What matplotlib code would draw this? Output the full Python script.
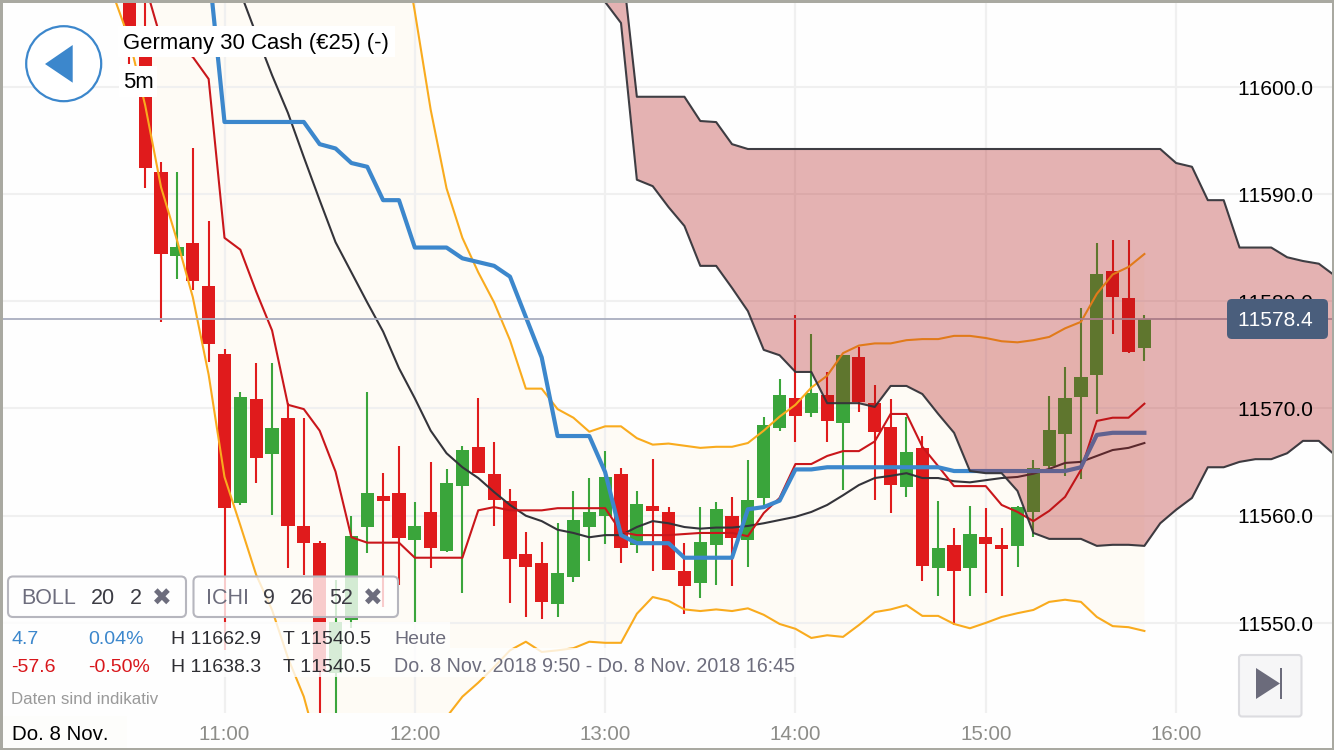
import numpy as np
import matplotlib
matplotlib.use("Agg")
import matplotlib.pyplot as plt
from matplotlib.patches import Rectangle, FancyBboxPatch, Circle, Polygon

plt.rcParams['font.family'] = ['Liberation Sans', 'DejaVu Sans']
plt.rcParams['text.kerning_factor'] = 6

# bars are 5 minutes apart, index 0 = 11:00
opens = [11611.7,11604.3,11592.0,11584.2,11585.4,11581.4,11575.1,11561.3,11570.9,11565.8,11569.2,11559.1,11557.6,11545.5,11550.4,11559.05,
 11561.9,11562.2,11557.8,11560.4,11556.8,11562.9,11566.5,11564.0,11561.5,11556.5,11555.7,11551.9,11554.4,11559.05,11560.1,11564.0,
 11557.4,11561.0,11560.4,11555.0,11553.85,11557.4,11560.1,11557.8,11561.7,11568.2,11571.0,11569.6,11571.3,11568.7,11574.8,11570.6,
 11568.3,11562.8,11566.4,11555.2,11557.4,11555.2,11558.1,11557.4,11557.3,11560.4,11564.7,11567.7,11571.1,11573.2,11582.8,11580.3,11575.7]
highs = [11613.6,11609.8,11592.9,11592.0,11594.2,11587.5,11575.6,11571.6,11574.3,11574.3,11570.6,11569.2,11557.75,11554.1,11560.1,11571.6,
 11564.1,11566.6,11561.4,11565.1,11564.4,11566.6,11571.0,11566.9,11562.6,11558.6,11557.7,11559.4,11562.4,11563.6,11566.1,11564.5,
 11562.4,11565.4,11560.9,11557.6,11560.9,11561.4,11561.8,11565.3,11569.3,11572.8,11578.7,11577.0,11573.4,11575.0,11575.8,11572.2,
 11570.9,11569.3,11567.5,11561.5,11559.0,11561.0,11560.8,11559.0,11561.0,11565.3,11571.2,11573.9,11579.4,11585.4,11585.7,11585.7,11578.7]
lows = [11602.0,11590.5,11578.1,11582.1,11581.1,11574.4,11547.6,11561.1,11563.1,11560.2,11555.2,11554.6,11540.5,11540.5,11549.7,11556.6,
 11551.6,11553.7,11550.2,11555.2,11556.75,11552.9,11564.1,11559.1,11552.0,11550.7,11550.5,11550.7,11553.9,11555.9,11557.5,11555.7,
 11556.6,11555.0,11555.1,11551.0,11552.5,11553.7,11553.6,11555.3,11561.0,11568.0,11566.9,11569.3,11566.9,11562.5,11569.7,11561.6,
 11560.35,11561.8,11554.0,11552.6,11550.0,11552.6,11552.9,11552.6,11555.3,11558.1,11564.5,11563.8,11563.5,11569.5,11577.0,11575.2,11574.5]
closes = [11603.3,11592.4,11584.4,11585.05,11581.9,11576.0,11560.8,11571.1,11565.5,11568.2,11559.1,11557.6,11545.6,11550.2,11558.2,11562.2,
 11561.5,11558.0,11559.1,11557.1,11563.1,11566.2,11564.1,11561.6,11556.1,11555.3,11552.1,11554.8,11559.7,11560.4,11563.7,11557.1,
 11561.2,11560.5,11555.1,11553.6,11557.7,11560.7,11558.0,11561.6,11568.5,11571.3,11569.4,11571.5,11568.9,11575.0,11570.7,11567.9,
 11562.95,11566.0,11555.4,11557.1,11555.0,11558.4,11557.5,11557.0,11560.9,11564.5,11568.1,11571.0,11573.0,11582.5,11580.4,11575.3,11578.4]
first_bar = -6

boll_upper = [11640,11645,11648,11650,11652,11655,11658,11660,11660,11660,11659,11657,11654,11650,11646,11640,11632,11624,
 11615.4,11606.9,11597.8,11590.5,11585.9,11582.7,11579.9,11576.4,11571.9,11571.9,11570.0,11569.2,11567.9,11568.4,11568.4,11567.3,
 11566.7,11566.8,11566.6,11566.4,11566.5,11566.5,11566.85,11568.0,11569.3,11570.4,11572.0,11573.1,11575.2,11575.9,11576.1,11576.1,
 11576.4,11576.5,11576.5,11576.8,11576.8,11576.6,11576.3,11576.2,11576.4,11576.7,11577.5,11578.1,11580.7,11582.5,11583.2,11584.4]
boll_lower = [11608.4,11604.3,11598.2,11590.6,11585.7,11580.4,11573.2,11563.7,11559.2,11554.6,11551.35,11546.9,11543.3,11537.9,11535,11533,
 11532,11532,11534,11536,11538.5,11541.4,11543.3,11544.6,11546.05,11547.6,11548.4,11547.45,11547.6,11547.8,11548.4,11548.3,11548.3,
 11551.0,11552.55,11552.2,11551.4,11551.25,11551.4,11551.25,11551.5,11550.9,11550.05,11549.6,11548.75,11549.0,11548.85,11549.95,
 11551.15,11551.4,11551.8,11550.8,11550.8,11550.05,11549.65,11550.15,11550.7,11551.05,11551.35,11552.1,11552.3,11552.1,11550.7,
 11549.85,11549.75,11549.4]
boll_first = -7

boll_mid = [11608.7,11604.8,11601.0,11597.5,11593.4,11589.4,11585.5,11582.7,11579.9,11577.2,11573.8,11571.0,11568.0,11565.9,11564.6,
 11563.6,11562.3,11561.1,11560.1,11559.6,11558.8,11558.5,11558.1,11558.3,11558.3,11559.05,11559.6,11559.4,11559.05,11558.9,11559.0,
 11559.0,11559.15,11559.4,11559.7,11560.0,11560.45,11561.1,11562.0,11562.95,11563.6,11563.8,11564.05,11563.6,11563.6,11563.3,11563.2,
 11563.4,11563.6,11563.7,11564.0,11564.45,11565.0,11565.1,11565.65,11566.2,11566.4,11566.85]
mid_first = 1

kijun = [11611.1,11596.66,11596.66,11596.66,11596.66,11596.66,11596.66,11594.6,11594.2,11592.85,11592.5,11589.4,11589.4,11585.0,11585.0,
 11585.0,11584.0,11583.65,11583.3,11582.3,11578.55,11574.8,11567.5,11567.5,11567.5,11564.15,11558.3,11557.55,11557.55,11557.55,11556.2,
 11556.2,11556.2,11556.2,11560.7,11560.9,11561.5,11564.4,11564.4,11564.6,11564.6,11564.6,11564.6,11564.6,11564.6,11564.6,11564.6,
 11564.25,11564.25,11564.25,11564.25,11564.25,11564.25,11564.25,11564.25,11564.6,11567.6,11567.8,11567.8,11567.8]
kijun_first = -1

tenkan = [11609.4,11604.3,11603.6,11602.7,11600.65,11585.9,11584.8,11580.9,11577.3,11570.4,11570.0,11568.0,11564.2,11558.1,11557.6,11557.6,
 11557.6,11556.2,11556.2,11556.2,11556.2,11560.6,11560.9,11560.6,11560.6,11560.6,11560.8,11560.8,11560.8,11560.8,11558.6,11558.3,11558.3,
 11558.3,11558.4,11558.5,11558.5,11558.5,11558.2,11560.35,11561.75,11564.9,11564.9,11565.65,11566.1,11566.1,11567.0,11569.55,11569.55,
 11566.5,11564.7,11562.85,11562.85,11562.85,11561.1,11560.45,11559.6,11560.55,11561.85,11564.35,11568.9,11569.2,11569.2,11570.5]
tenkan_first = -5

cloud_top = [11624,11612.3,11599.0,11599.0,11599.0,11599.0,11596.75,11596.65,11594.6]+[11594.15]*27+[11592.85,11592.5,11589.4,11589.4,
 11585.0,11585.0,11585.0,11584.1,11583.75,11583.5,11582.4]
cloud_bottom = [11607.8,11605.85,11591.3,11590.7,11588.75,11587.0,11583.3,11583.3,11581.25,11579.1,11575.5,11575.0,11573.45,11573.45,
 11570.55,11570.55,11570.55,11570.2,11572.15,11572.15,11571.4,11569.55,11567.8,11564.25,11564.05,11564.05,11562.4,11558.5,11557.95,
 11557.95,11557.95,11557.3,11557.4,11557.4,11557.3,11559.4,11560.65,11561.75,11564.6,11564.6,11565.1,11565.35,11565.35,11565.9,
 11567.05,11567.05,11565.75]
cloud_first = 24

last_price = 11578.4
y_ticks = [11550.0, 11560.0, 11570.0, 11580.0, 11590.0, 11600.0]
x_tick_bars = [0, 12, 24, 36, 48, 60]
x_tick_labels = ['11:00', '12:00', '13:00', '14:00', '15:00', '16:00']

RED, GREEN = '#e01b1c', '#3aa53b'
BLUE, THINRED = '#3c87cc', '#c9161b'
DARK, ORANGE = '#34343a', '#f9ab1e'
CREAM, GRID = '#fefbf5', '#f0f0f0'

XLIM = (-224.5/15.86, (1334-224.5)/15.86)
YLIM_MARKS = (11600-(750-86)/10.77, 11600+86/10.77)
YLIM_GRID = (11600-(750-86.7)/10.72, 11600+86.7/10.72)

fig = plt.figure(figsize=(13.34, 7.5), dpi=100, facecolor='#fefefe')

def layer(ylim, face='none'):
    a = fig.add_axes([0, 0, 1, 1], facecolor=face)
    a.set_xlim(*XLIM)
    a.set_ylim(*ylim)
    a.axis('off')
    return a

ax_bg = layer(YLIM_MARKS)
ax_grid = layer(YLIM_GRID)
ax = layer(YLIM_MARKS)

def idx(first, arr):
    return np.arange(len(arr)) + first

xb = idx(boll_first, boll_upper)
ax_bg.fill_between(xb, boll_lower, boll_upper, color=CREAM, lw=0)
for v in y_ticks:
    ax_grid.axhline(v, color=GRID, lw=1.5)
for v in x_tick_bars:
    ax_grid.axvline(v, color=GRID, lw=1.6)

x = idx(first_bar, opens)
cols = [GREEN if c >= o else RED for o, c in zip(opens, closes)]
ax.vlines(x, lows, highs, colors=cols, lw=1.5, zorder=3)
ax.bar(x, np.abs(np.array(closes)-np.array(opens)), bottom=np.minimum(opens, closes),
       width=0.83, color=cols, lw=0, zorder=3)

ax.plot(xb, boll_upper, color=ORANGE, lw=1.5, zorder=4)
ax.plot(xb, boll_lower, color=ORANGE, lw=1.5, zorder=4)
ax.plot(idx(mid_first, boll_mid), boll_mid, color=DARK, lw=1.5, zorder=4)
ax.plot(idx(tenkan_first, tenkan), tenkan, color=THINRED, lw=1.5, zorder=4)
ax.plot(idx(kijun_first, kijun), kijun, color=BLUE, lw=3.0, zorder=4.2)
ax.axhline(last_price, color='#a9aebf', lw=1.3, zorder=4.5)

xc = idx(cloud_first, cloud_top)
ax.fill_between(xc, cloud_bottom, cloud_top, color='#b01414', alpha=0.32, lw=0, zorder=5)
ax.plot(xc, cloud_top, color=DARK, lw=1.5, zorder=5.5, alpha=0.95)
ax.plot(xc, cloud_bottom, color=DARK, lw=1.5, zorder=5.5, alpha=0.95)

# interface layer, measured in screen pixels
ui = fig.add_axes([0, 0, 1, 1], facecolor='none')
ui.set_xlim(0, 1334)
ui.set_ylim(750, 0)
ui.axis('off')

def box(x0, y0, x1, y1, fc, alpha=1.0, ec='none', lw=0, r=0, z=2):
    if r:
        p = FancyBboxPatch((x0, y0), x1-x0, y1-y0, boxstyle=f'round,pad=0,rounding_size={r}',
                           fc=fc, ec=ec, lw=lw, zorder=z)
        if alpha < 1:
            p.set_facecolor(matplotlib.colors.to_rgba(fc, alpha))
    else:
        p = Rectangle((x0, y0), x1-x0, y1-y0, fc=fc, ec=ec, lw=lw, alpha=alpha, zorder=z)
    ui.add_patch(p)

def label(px, py, s, color='black', size=14.75, ha='left', z=6, **kw):
    ui.text(px, py, s, color=color, fontsize=size, ha=ha, va='center', zorder=z, **kw)

# bottom band and time axis
box(0, 713, 1334, 750, '#fefefe', z=1)
box(3, 716, 127, 750, '#fdfdfb', z=1.5)
for b, s in zip(x_tick_bars, x_tick_labels):
    label(224.5+15.86*b, 734.5, s, color='#8d8d89', ha='center')
label(12, 734.5, 'Do. 8 Nov.')

# y labels
for v in y_ticks:
    label(1275, 86.7+(11600-v)*10.72+2.4, f'{v:.1f}', ha='center', size=15.1, z=3)
box(1227, 299, 1328, 339, '#4a5e7c', r=5, z=4)
label(1275.5, 320, f'{last_price:.1f}', color='white', ha='center', size=15.1)

# title labels
box(118, 26, 395, 57, 'white', z=3)
box(119, 66, 157, 97, 'white', z=3)
label(123, 43.5, 'Germany 30 Cash (€25) (-)', size=15.9)
label(123, 83, '5m', size=15.9)

# back button
ui.add_patch(Circle((63.7, 63.7), 37.5, fc='white', ec=BLUE, lw=1.6, zorder=4))
ui.add_patch(Polygon([(45, 64), (72.7, 45), (72.7, 82.7)], fc=BLUE, ec='none', zorder=5))

# indicator chips
box(8, 576.5, 186, 617, 'white', alpha=0.78, ec='#b6b6be', lw=1.5, r=5, z=3)
box(193.5, 576.5, 398, 617, 'white', alpha=0.78, ec='#b6b6be', lw=1.5, r=5, z=3)
GREY = '#6d6d7d'
for px, s, c in [(21, 'BOLL', GREY), (91, '20', '#3c3c44'), (130, '2', '#3c3c44'),
                 (206, 'ICHI', GREY), (263, '9', '#3c3c44'), (290, '26', '#3c3c44'), (329, '52', '#3c3c44')]:
    label(px, 598, s, color=c, size=15.5)
for px in (162, 373):
    ui.text(px, 598.5, '\u2716', color=GREY, fontsize=17, ha='center', va='center',
            family='DejaVu Sans', zorder=6)

# stat rows
box(0, 622, 450, 648, 'white', alpha=0.8, z=2)
box(0, 648, 797, 677, 'white', alpha=0.8, z=2)
for py, a, b, h, t, col in [(639, '4.7', '0.04%', 'H 11662.9', 'T 11540.5', BLUE),
                            (667, '-57.6', '-0.50%', 'H 11638.3', 'T 11540.5', '#d8161b')]:
    label(11, py, a, color=col, size=14)
    label(88, py, b, color=col, size=14)
    label(171, py, h, color='#2e2e33', size=14)
    label(283, py, t, color='#2e2e33', size=14)
label(394, 639, 'Heute', color=GREY, size=14)
label(394, 667, 'Do. 8 Nov. 2018 9:50 - Do. 8 Nov. 2018 16:45', color=GREY, size=14.13)
label(11, 700, 'Daten sind indikativ', color='#9a9a9a', size=12.2)

# jump-to-end button
box(1239, 655, 1301.5, 716.5, '#f6f6f7', ec='#dcdce0', lw=1.5, r=3, z=3)
ui.add_patch(Polygon([(1256, 668), (1256, 699), (1280, 683.5)], fc='#6b6b7b', ec='none', zorder=5))
ui.add_patch(Rectangle((1280, 668), 2.4, 31, fc='#6b6b7b', ec='none', zorder=5))

# frame
for r in [(0, 0, 1334, 2.5), (0, 747.5, 1334, 2.5), (0, 0, 2.5, 750), (1331.5, 0, 2.5, 750)]:
    ui.add_patch(Rectangle((r[0], r[1]), r[2], r[3], fc='#a9a9a1', ec='none', zorder=8))

fig.savefig('out.png', dpi=100)
